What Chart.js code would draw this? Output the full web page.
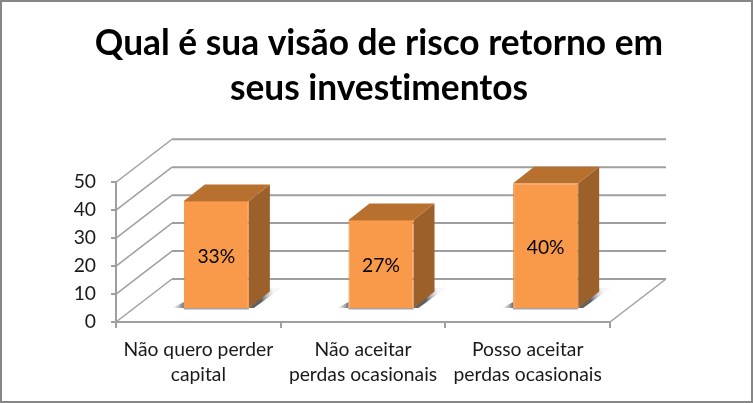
<!DOCTYPE html>
<html>
<head>
<meta charset="utf-8">
<style>html,body{margin:0;padding:0;background:#fff}canvas{display:block}</style>
<script src="https://cdn.jsdelivr.net/npm/chart.js@4"></script>
</head>
<body>
<canvas id="c" width="753" height="403" style="width:753px;height:403px"></canvas>
<script>
const titleLines = ['Qual é sua visão de risco retorno em', 'seus investimentos'];
const categories = [['Não quero perder', 'capital'], ['Não aceitar', 'perdas ocasionais'], ['Posso aceitar', 'perdas ocasionais']];
const barHeights = [38.6, 31.8, 45];
const barLabels = ['33%', '27%', '40%'];
const yMin = 0, yMax = 50, yStep = 10;

const WALL = {dx: 56, dy: -43};
const FRONT = {dx: 18, dy: -13};
const BAR = {dx: 21, dy: -16.5};
const GRID = '#9f9f9f';

function poly(ctx, pts, fill) {
  ctx.beginPath();
  pts.forEach((p, i) => i ? ctx.lineTo(p[0], p[1]) : ctx.moveTo(p[0], p[1]));
  ctx.closePath();
  ctx.fillStyle = fill;
  ctx.fill();
}

const scene = {
  id: 'scene',
  afterLayout(chart) {
    chart.titleBlock.left = 5;
    chart.titleBlock.right = 753;
  },
  beforeDraw(chart) {
    chart.ctx.textRendering = 'optimizeSpeed';
  },
  beforeDatasetsDraw(chart) {
    const ctx = chart.ctx, y = chart.scales.y, a = chart.chartArea;
    ctx.save();
    ctx.strokeStyle = GRID;
    for (let v = yMin; v <= yMax; v += yStep) {
      const py = y.getPixelForValue(v);
      ctx.lineWidth = 1.5;
      ctx.beginPath();
      ctx.moveTo(a.left, py);
      ctx.lineTo(a.left + WALL.dx, py + WALL.dy);
      ctx.stroke();
      ctx.lineWidth = 2;
      ctx.beginPath();
      ctx.moveTo(a.left + WALL.dx, py + WALL.dy);
      ctx.lineTo(a.right + WALL.dx, py + WALL.dy);
      ctx.stroke();
    }
    ctx.lineWidth = 1.5;
    ctx.beginPath();
    ctx.moveTo(a.right, a.bottom);
    ctx.lineTo(a.right + WALL.dx, a.bottom + WALL.dy);
    ctx.stroke();

    const meta = chart.getDatasetMeta(0);
    ctx.translate(FRONT.dx, FRONT.dy);
    meta.data.forEach(el => {
      const l = el.x - el.width / 2, r = el.x + el.width / 2, t = el.y, b = el.base;
      let g = ctx.createLinearGradient(r + 12, b - 10, r + 26, b - 14);
      g.addColorStop(0, 'rgba(80,80,80,0.9)');
      g.addColorStop(1, 'rgba(215,215,215,0.2)');
      poly(ctx, [[r, b], [r + BAR.dx, b + BAR.dy - 3.5], [r + BAR.dx + 12, b + BAR.dy - 4], [r + 5, b]], g);
      g = ctx.createLinearGradient(l - 11, b, l, b);
      g.addColorStop(0, 'rgba(200,200,200,0.2)');
      g.addColorStop(1, 'rgba(90,90,90,0.9)');
      poly(ctx, [[l, b - 6], [l, b], [l - 11, b]], g);
      poly(ctx, [[r, t], [r + BAR.dx, t + BAR.dy], [r + BAR.dx, b + BAR.dy], [r, b]], '#9c602b');
      poly(ctx, [[l, t], [l + BAR.dx, t + BAR.dy], [r + BAR.dx, t + BAR.dy], [r, t]], '#b8702f');
      ctx.fillStyle = '#a3a3a3';
      ctx.fillRect(l, b, el.width, 1.5);
    });
  },
  afterDatasetsDraw(chart) {
    const ctx = chart.ctx;
    ctx.restore();
    ctx.save();
    ctx.font = '19.3px Lato';
    ctx.fillStyle = '#000';
    ctx.textAlign = 'center';
    ctx.textBaseline = 'middle';
    chart.getDatasetMeta(0).data.forEach((el, i) => {
      ctx.fillText(barLabels[i], el.x + FRONT.dx, (el.y + el.base) / 2 + FRONT.dy + 2);
    });
    ctx.strokeStyle = '#868686';
    ctx.lineWidth = 2;
    ctx.strokeRect(1, 1, 751, 401);
    ctx.restore();
  }
};

new Chart(document.getElementById('c'), {
  type: 'bar',
  data: {
    labels: categories,
    datasets: [{
      data: barHeights,
      backgroundColor: '#f99a4a',
      borderColor: '#e5883c',
      borderWidth: 1,
      barPercentage: 0.395,
      categoryPercentage: 1
    }]
  },
  options: {
    responsive: false,
    animation: false,
    devicePixelRatio: 1,
    layout: {padding: {left: 0, right: 143, top: 0, bottom: 0}},
    plugins: {
      legend: {display: false},
      tooltip: {enabled: false},
      title: {
        display: true,
        text: titleLines,
        color: '#000',
        font: {family: 'Lato', size: 35.3, weight: 'bold', lineHeight: 1.25},
        padding: {top: 22, bottom: 72}
      }
    },
    scales: {
      x: {
        afterFit(s) { s.height = 81; },
        grid: {drawOnChartArea: false, drawTicks: true, tickLength: 6, color: GRID, lineWidth: 2},
        border: {color: GRID, width: 2},
        ticks: {color: '#1a1a1a', font: {family: 'Lato', size: 19.3, lineHeight: 1.3}, padding: 9, maxRotation: 0, autoSkip: false}
      },
      y: {
        min: yMin,
        max: yMax,
        afterFit(s) { s.width = 116; },
        grid: {drawOnChartArea: false, drawTicks: true, tickLength: 5, color: GRID, lineWidth: 2},
        border: {color: GRID, width: 2},
        ticks: {stepSize: yStep, color: '#1a1a1a', font: {family: 'Lato', size: 19.3}, padding: 15}
      }
    }
  },
  plugins: [scene]
});
</script>
</body>
</html>
